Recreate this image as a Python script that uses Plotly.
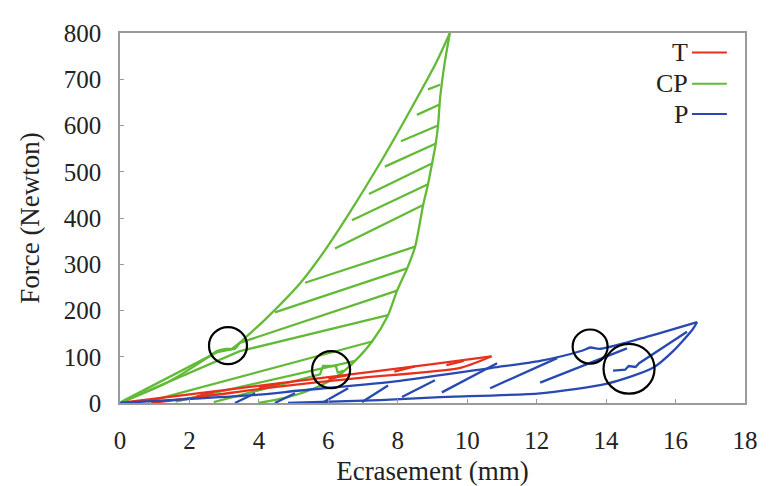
import plotly.graph_objects as go

# ---------------- data (mm, Newton) ----------------
# CP (green)
cp_load_x = [0, 1.3, 2.5, 2.78, 3.05, 3.3, 3.45, 4.2, 5.2, 5.9, 6.6, 7.5, 8.3, 9.1, 9.5]
cp_load_y = [0, 42, 97, 112, 117, 117, 130, 182, 260, 330, 410, 520, 625, 735, 800]
cp_unload_x = [9.5, 9.35, 9.22, 9.16, 9.08, 8.98, 8.87, 8.73, 8.5, 8.27, 7.98, 7.72, 7.26, 6.77, 6.3, 5.6, 4.8, 4.0]
cp_unload_y = [800, 735, 660, 600, 555, 515, 473, 428, 338, 291, 243, 190, 133, 91, 60, 32, 12, 0]
cp_hatch_x = [
    [8.87, 9.22], [8.55, 9.22], [8.09, 9.16], [7.63, 9.10], [7.17, 9.01],
    [6.68, 8.87], [6.19, 8.73], [5.33, 8.50], [4.46, 8.27],
    [0.05, 2.8, 3.2, 3.45, 7.98],
    [0.05, 3.05, 3.2, 3.45, 7.72],
    [0.8, 7.26],
    [1.6, 6.77],
    [2.7, 5.76, 5.85, 6.22, 6.27, 6.45],
]
cp_hatch_y = [
    [678, 688], [623, 646], [566, 600], [511, 561], [452, 519],
    [395, 473], [334, 428], [260, 338], [196, 291],
    [3, 110, 116, 130, 243],
    [2, 100, 104, 112, 190],
    [3, 133],
    [3, 91],
    [2, 62, 80, 80, 66, 70],
]

# T (red)
t_load_x = [0, 3.0, 6.0, 9.0, 10.7]
t_load_y = [0, 28, 56, 84, 101]
t_unload_x = [10.7, 9.8, 7.0, 4.5, 2.5, 0.9]
t_unload_y = [101, 76, 55, 35, 15, 0]
t_hatch_x = [[2.2, 2.7], [4.0, 4.6], [6.0, 6.6], [7.9, 8.5], [9.4, 9.9]]
t_hatch_y = [[14, 24], [33, 42], [52, 61], [68, 79], [82, 91]]

# P (blue)
p_load_x = [0, 2.3, 4.0, 5.18, 8.06, 10.71, 12.1, 13.3, 13.55, 13.8, 14.98, 16.62]
p_load_y = [0, 10, 18, 27, 48, 76, 91, 113, 120, 117, 139, 175]
p_unload_x = [16.62, 16.5, 15.93, 15.35, 14.03, 12.1, 9.22, 7.49, 4.84]
p_unload_y = [175, 160, 112, 76, 42, 21, 12.7, 6.3, 0]
p_hatch_x = [
    [3.31, 3.89], [4.46, 5.04], [5.82, 6.57], [6.97, 7.72], [8.12, 9.07],
    [9.27, 10.86], [10.66, 12.59], [12.10, 14.6],
    [14.2, 14.55, 14.65, 14.85, 14.95, 16.33],
]
p_hatch_y = [
    [0, 21], [0, 21], [0, 32], [2, 38], [13, 49],
    [23, 86], [32, 97], [44, 118],
    [70, 72, 80, 78, 86, 154],
]

series_names = ["T", "CP", "P"]
series_colors = ["rgb(232,48,30)", "rgb(98,186,54)", "rgb(40,72,178)"]

# highlighted regions (centre in data units, radius in pixels)
circle_cx = [3.11, 6.08, 13.54, 14.66]
circle_cy = [124, 72, 122, 74]
circle_r_px = [19, 19, 17.5, 25.5]

x_range = [0, 18]
y_range = [0, 800]
x_ticks = [0, 2, 4, 6, 8, 10, 12, 14, 16, 18]
y_ticks = [0, 100, 200, 300, 400, 500, 600, 700, 800]

# ---------------- figure ----------------
W, H = 770, 486
ML, MR, MT, MB = 112, 33, 16, 91   # page body adds an 8px offset
plot_w = W - ML - MR
plot_h = H - MT - MB
FONT = "Liberation Serif"


def join(segs_x, segs_y):
    xs, ys = [], []
    for sx, sy in zip(segs_x, segs_y):
        xs += list(sx) + [None]
        ys += list(sy) + [None]
    return xs, ys


fig = go.Figure()
groups = [
    (t_load_x, t_load_y, t_unload_x, t_unload_y, t_hatch_x, t_hatch_y, series_colors[0]),
    (cp_load_x, cp_load_y, cp_unload_x, cp_unload_y, cp_hatch_x, cp_hatch_y, series_colors[1]),
    (p_load_x, p_load_y, p_unload_x, p_unload_y, p_hatch_x, p_hatch_y, series_colors[2]),
]
for i in [1, 0, 2]:
    lx, ly, ux, uy, hx, hy, col = groups[i]
    for cx_, cy_ in ((lx, ly), (ux, uy)):
        fig.add_trace(go.Scatter(x=cx_, y=cy_, mode="lines",
                                 line=dict(color=col, width=2.3, shape="spline", smoothing=0.7),
                                 showlegend=False, hoverinfo="skip"))
    xs, ys = join(hx, hy)
    fig.add_trace(go.Scatter(x=xs, y=ys, mode="lines", line=dict(color=col, width=2.3),
                             showlegend=False, hoverinfo="skip"))

sx = plot_w / (x_range[1] - x_range[0])
sy = plot_h / (y_range[1] - y_range[0])
for cx, cy, r in zip(circle_cx, circle_cy, circle_r_px):
    fig.add_shape(type="circle", xref="x", yref="y",
                  x0=cx - r / sx, x1=cx + r / sx, y0=cy - r / sy, y1=cy + r / sy,
                  line=dict(color="black", width=2.2))

# legend (text then line, as in the original)
leg_y = [0.947, 0.863, 0.781]
for name, col, ly in zip(series_names, series_colors, leg_y):
    fig.add_annotation(xref="paper", yref="paper", x=0.912, y=ly, text=name,
                       showarrow=False, xanchor="right", yanchor="middle",
                       font=dict(family=FONT, size=26, color="#222"))
    fig.add_shape(type="line", xref="paper", yref="paper", x0=0.915, x1=0.971,
                  y0=ly, y1=ly, line=dict(color=col, width=2))

axis_common = dict(showgrid=False, zeroline=False, showline=True, mirror=True,
                   linecolor="#9a9a9a", linewidth=1.5, ticks="inside", ticklen=4,
                   tickcolor="#9a9a9a",
                   tickfont=dict(family=FONT, size=25, color="#222"))

fig.update_layout(
    width=W, height=H,
    margin=dict(l=ML, r=MR, t=MT, b=MB),
    paper_bgcolor="white", plot_bgcolor="white",
    xaxis=dict(range=x_range, tickvals=x_ticks, ticklabelstandoff=14,
               title=dict(text="Ecrasement (mm)", standoff=8,
                          font=dict(family=FONT, size=27, color="#222")),
               **axis_common),
    yaxis=dict(range=y_range, tickvals=y_ticks, ticklabelstandoff=12,
               title=dict(text="Force (Newton)", standoff=16,
                          font=dict(family=FONT, size=27, color="#222")),
               **axis_common),
)

fig.write_html("out.html")
